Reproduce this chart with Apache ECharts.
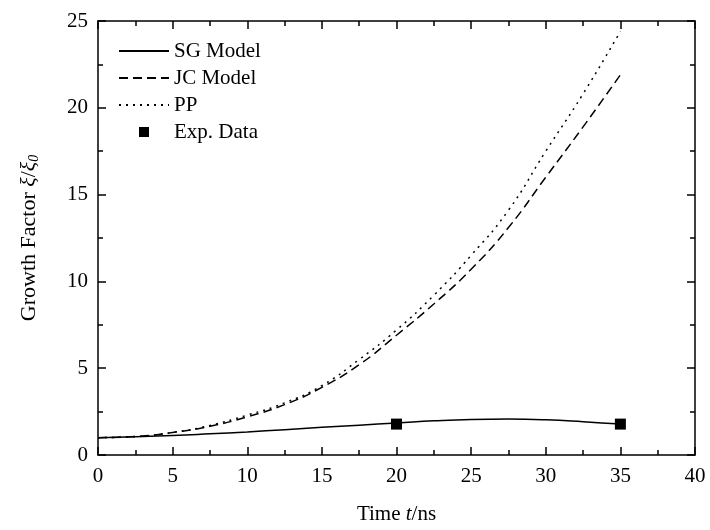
<!DOCTYPE html>
<html><head><meta charset="utf-8">
<script src="https://cdn.jsdelivr.net/npm/echarts@6/dist/echarts.min.js"></script>
<style>html,body{margin:0;padding:0;background:#fff}#c{width:710px;height:530px}</style>
</head><body><div id="c"></div>
<script>
const t = [0, 2.5, 5, 7.5, 10, 12.5, 15, 17.5, 20, 22.5, 25, 27.5, 30, 32.5, 35];
const sgModel = [1.0, 1.05, 1.12, 1.22, 1.33, 1.46, 1.6, 1.72, 1.84, 1.97, 2.05, 2.07, 2.03, 1.92, 1.78];
const jcModel = [1.0, 1.06, 1.3, 1.65, 2.2, 2.9, 3.9, 5.2, 6.9, 8.7, 10.7, 13.1, 16.0, 18.9, 21.9];
const ppModel = [1.0, 1.06, 1.3, 1.7, 2.3, 3.0, 4.0, 5.5, 7.2, 9.2, 11.5, 14.1, 17.5, 20.8, 24.4];
const expT = [20, 35];
const expData = [1.78, 1.78];
const xTicks = {min: 0, max: 40, interval: 5};
const yTicks = {min: 0, max: 25, interval: 5};

const pair = (xs, ys) => xs.map((x, i) => [x, ys[i]]);
const FONT = 'Liberation Serif';
const axCommon = {
  axisLine: {show: true, onZero: false, lineStyle: {color: '#000', width: 1.5}},
  axisTick: {show: true, inside: true, length: 8, lineStyle: {color: '#000', width: 1.5}},
  minorTick: {show: true, splitNumber: 2, length: 5, lineStyle: {color: '#000', width: 1.5}},
  splitLine: {show: false}
};
const hideSym = {opacity: 0};
const chart = echarts.init(document.getElementById('c'));
chart.setOption({
  backgroundColor: '#fff',
  animation: false,
  grid: {left: 98, right: 15, top: 21, bottom: 70},
  legend: {
    orient: 'vertical', left: 113, top: 34, itemWidth: 50, itemHeight: 14, itemGap: 3,
    textStyle: {fontFamily: FONT, fontSize: 21, color: '#000', lineHeight: 24},
    data: [
      {name: 'SG Model', itemStyle: hideSym},
      {name: 'JC Model', itemStyle: hideSym},
      {name: 'PP', itemStyle: hideSym},
      {name: 'Exp. Data', icon: 'path://M0,0M50,14M20,2L30,2L30,12L20,12Z', itemStyle: {color: '#000', opacity: 1}}
    ]
  },
  xAxis: [
    Object.assign({type: 'value', position: 'bottom', min: xTicks.min, max: xTicks.max, interval: xTicks.interval,
      name: '{a|Time }{i|t}{a|/ns}', nameLocation: 'middle', nameGap: 49,
      nameTextStyle: {rich: {a: {fontFamily: FONT, fontSize: 21, color: '#000'}, i: {fontFamily: FONT, fontStyle: 'italic', fontSize: 21, color: '#000'}}},
      axisLabel: {fontFamily: FONT, fontSize: 21, color: '#000', margin: 11}}, axCommon),
    Object.assign({type: 'value', position: 'top', min: xTicks.min, max: xTicks.max, interval: xTicks.interval,
      axisLabel: {show: false}}, axCommon)
  ],
  yAxis: [
    Object.assign({type: 'value', position: 'left', min: yTicks.min, max: yTicks.max, interval: yTicks.interval,
      name: '{a|Growth Factor }{i|ξ}{a|/}{i|ξ}{s|0}', nameLocation: 'middle', nameGap: 57,
      nameTextStyle: {rich: {
        a: {fontFamily: FONT, fontSize: 22, color: '#000'},
        i: {fontFamily: FONT, fontStyle: 'italic', fontSize: 22, color: '#000'},
        s: {fontFamily: FONT, fontStyle: 'italic', fontSize: 14, color: '#000', verticalAlign: 'bottom', padding: [9, 0, 0, 0]}}},
      axisLabel: {fontFamily: FONT, fontSize: 21, color: '#000', margin: 10}}, axCommon),
    Object.assign({type: 'value', position: 'right', min: yTicks.min, max: yTicks.max, interval: yTicks.interval,
      axisLabel: {show: false}}, axCommon)
  ],
  series: [
    {name: 'SG Model', type: 'line', smooth: true, showSymbol: false, symbol: 'none', data: pair(t, sgModel),
      lineStyle: {color: '#000', width: 1.5, type: 'solid'}, itemStyle: {color: '#000'}},
    {name: 'JC Model', type: 'line', smooth: true, showSymbol: false, symbol: 'none', data: pair(t, jcModel),
      lineStyle: {color: '#000', width: 1.5, type: [9, 5]}, itemStyle: {color: '#000'}},
    {name: 'PP', type: 'line', smooth: true, showSymbol: false, symbol: 'none', data: pair(t, ppModel),
      lineStyle: {color: '#000', width: 1.5, type: [2, 5]}, itemStyle: {color: '#000'}},
    {name: 'Exp. Data', type: 'scatter', symbol: 'rect', symbolSize: 11, data: pair(expT, expData), z: 5,
      itemStyle: {color: '#000', opacity: 1}}
  ]
});
</script></body></html>
